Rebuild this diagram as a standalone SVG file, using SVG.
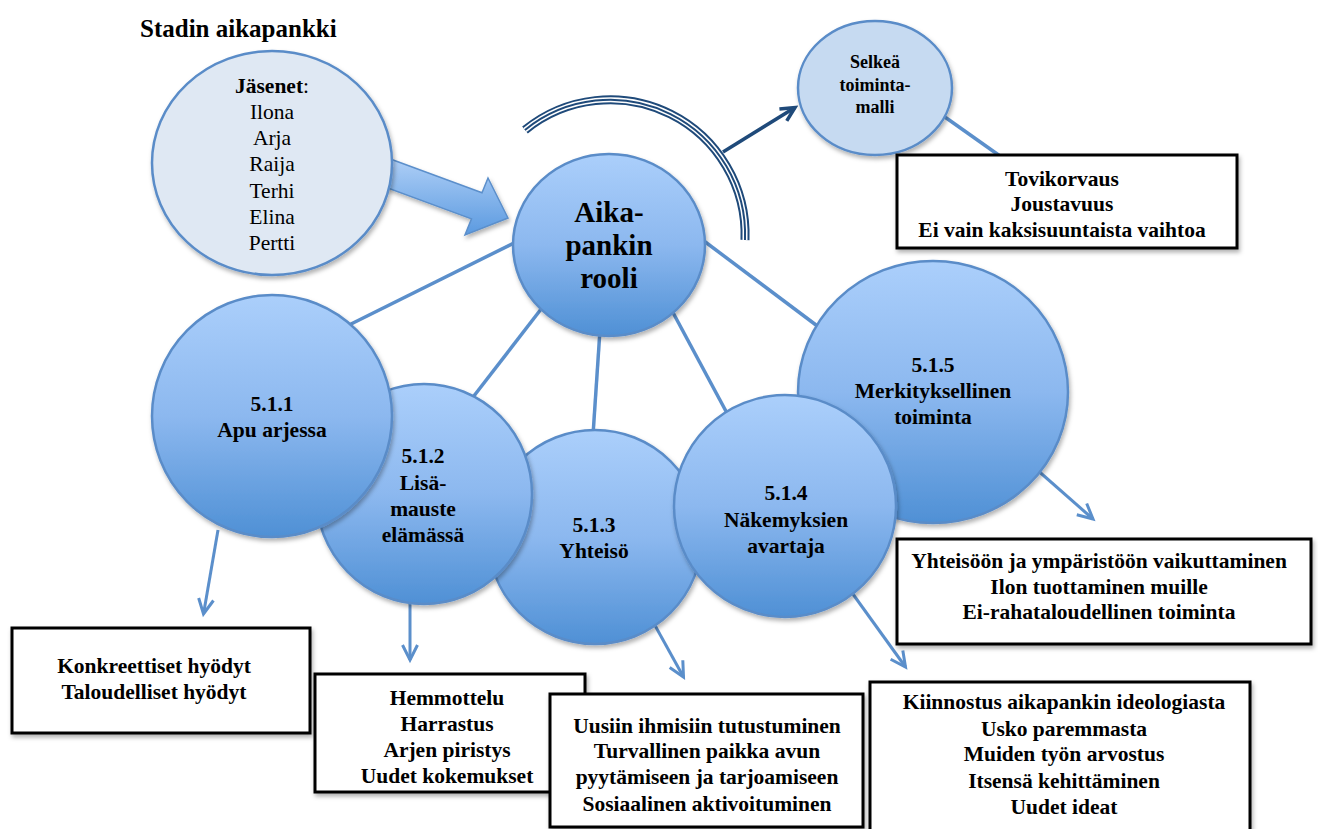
<svg xmlns="http://www.w3.org/2000/svg" width="1318" height="829" viewBox="0 0 1318 829">
<style>
.t{font-family:"Liberation Serif","Times New Roman",serif;fill:#000;text-anchor:middle}
.b{font-weight:bold}
.ball{fill:url(#gBall);stroke:#5a8cc8;stroke-width:2.5;filter:url(#sh)}
.box{fill:#fff;stroke:#000;stroke-width:3;filter:url(#sh)}
.conn{stroke:#5b8fcb;stroke-width:3.5;fill:none}
.arr{stroke:#5b8fcb;stroke-width:3;fill:none;marker-end:url(#mBlue)}
</style>
<defs>
<linearGradient id="gBall" x1="0" y1="0" x2="0" y2="1">
<stop offset="0" stop-color="#abcffb"/>
<stop offset="0.5" stop-color="#8cb8ef"/>
<stop offset="1" stop-color="#4f90d5"/>
</linearGradient>
<linearGradient id="gArrow" x1="0" y1="0" x2="0" y2="1">
<stop offset="0" stop-color="#b0d0f7"/>
<stop offset="1" stop-color="#5b9ae0"/>
</linearGradient>
<filter id="sh" x="-10%" y="-10%" width="130%" height="130%">
<feDropShadow dx="1.5" dy="3" stdDeviation="2" flood-color="#000" flood-opacity="0.3"/>
</filter>
<marker id="mBlue" markerUnits="userSpaceOnUse" viewBox="-18 -10 22 20" refX="0" refY="0" markerWidth="22" markerHeight="20" orient="auto">
<path d="M-15,-7.5 L0,0 L-15,7.5" fill="none" stroke="#5b8fcb" stroke-width="3"/>
</marker>
<marker id="mNavy" markerUnits="userSpaceOnUse" viewBox="-18 -10 22 20" refX="0" refY="0" markerWidth="22" markerHeight="20" orient="auto">
<path d="M-14,-7 L0,0 L-14,7" fill="none" stroke="#1f4a7a" stroke-width="3.5"/>
</marker>
</defs>
<rect width="1318" height="829" fill="#fff"/>

<g id="connectors">
<line class="conn" x1="345" y1="327" x2="520" y2="240"/>
<line class="conn" x1="470" y1="401" x2="545" y2="304"/>
<line class="conn" x1="593" y1="435" x2="600" y2="330"/>
<line class="conn" x1="670" y1="307" x2="728" y2="415"/>
<line class="conn" x1="700" y1="238" x2="820" y2="328"/>
<line class="conn" x1="935" y1="110" x2="1000" y2="156"/>
<line class="arr" x1="218" y1="530" x2="203.5" y2="614"/>
<line class="arr" x1="410" y1="598" x2="410" y2="660"/>
<line class="arr" x1="652" y1="620" x2="683.5" y2="677"/>
<line class="arr" x1="850" y1="590" x2="905.5" y2="667"/>
<line class="arr" x1="1035" y1="468" x2="1093" y2="519"/>
<line x1="723" y1="152" x2="795" y2="107.5" stroke="#1f4a7a" stroke-width="3.5" marker-end="url(#mNavy)"/>
</g>

<g id="cycle-arc">
<path d="M525,130 A135,135 0 0 1 745,240" fill="none" stroke="#1f4a7a" stroke-width="9"/>
<path d="M525,130 A135,135 0 0 1 745,240" fill="none" stroke="#fff" stroke-width="5"/>
<path d="M525,130 A135,135 0 0 1 745,240" fill="none" stroke="#1f4a7a" stroke-width="2"/>
</g>

<g id="big-arrow">
<polygon points="385,157 482,192.7 488,178 508,218 465,235 471.5,218.9 385,187" fill="url(#gArrow)" stroke="#5b8fcb" stroke-width="1.5" filter="url(#sh)"/>
</g>

<g id="members">
<ellipse cx="272" cy="163" rx="120" ry="112" fill="#dfe8f3" stroke="#5a8cc8" stroke-width="2.5" filter="url(#sh)"/>
<text class="t" font-size="21.5" x="272" y="93"><tspan font-weight="bold">Jäsenet</tspan>:</text>
<text class="t" font-size="21.5" x="272" y="119">Ilona</text>
<text class="t" font-size="21.5" x="272" y="145">Arja</text>
<text class="t" font-size="21.5" x="272" y="171">Raija</text>
<text class="t" font-size="21.5" x="272" y="198">Terhi</text>
<text class="t" font-size="21.5" x="272" y="224">Elina</text>
<text class="t" font-size="21.5" x="272" y="250">Pertti</text>
</g>

<g id="center">
<ellipse class="ball" cx="609" cy="245" rx="96" ry="91"/>
<text class="t b" font-size="29" x="609" y="222">Aika-</text>
<text class="t b" font-size="29" x="609" y="255">pankin</text>
<text class="t b" font-size="29" x="609" y="288">rooli</text>
</g>

<g id="selkea">
<ellipse cx="875" cy="88" rx="77" ry="67" fill="#c6daf1" stroke="#5a8cc8" stroke-width="2.5" filter="url(#sh)"/>
<text class="t b" font-size="18" x="875" y="68">Selkeä</text>
<text class="t b" font-size="18" x="875" y="91">toiminta-</text>
<text class="t b" font-size="18" x="875" y="113">malli</text>
</g>

<g id="c513">
<circle class="ball" cx="595" cy="537" r="107"/>
<text class="t b" font-size="21.5" x="594" y="532">5.1.3</text>
<text class="t b" font-size="21.5" x="594" y="558">Yhteisö</text>
</g>
<g id="c512">
<ellipse class="ball" cx="424" cy="494" rx="108" ry="110"/>
<text class="t b" font-size="21.5" x="423" y="463">5.1.2</text>
<text class="t b" font-size="21.5" x="423" y="490">Lisä-</text>
<text class="t b" font-size="21.5" x="423" y="516">mauste</text>
<text class="t b" font-size="21.5" x="423" y="542">elämässä</text>
</g>
<g id="c511">
<ellipse class="ball" cx="272" cy="416" rx="120" ry="121"/>
<text class="t b" font-size="21.5" x="272" y="411">5.1.1</text>
<text class="t b" font-size="21.5" x="272" y="437">Apu arjessa</text>
</g>
<g id="c515">
<ellipse class="ball" cx="933" cy="392" rx="135" ry="131"/>
<text class="t b" font-size="21.5" x="933" y="372">5.1.5</text>
<text class="t b" font-size="21.5" x="933" y="398">Merkityksellinen</text>
<text class="t b" font-size="21.5" x="933" y="424">toiminta</text>
</g>
<g id="c514">
<circle class="ball" cx="785" cy="506" r="111"/>
<text class="t b" font-size="21.5" x="786" y="500">5.1.4</text>
<text class="t b" font-size="21.5" x="786" y="527">Näkemyksien</text>
<text class="t b" font-size="21.5" x="786" y="553">avartaja</text>
</g>

<g id="box-tovi">
<rect class="box" x="897" y="155" width="340" height="93"/>
<text class="t b" font-size="21.5" x="1062" y="186">Tovikorvaus</text>
<text class="t b" font-size="21.5" x="1062" y="211">Joustavuus</text>
<text class="t b" font-size="21.5" x="1062" y="237">Ei vain kaksisuuntaista vaihtoa</text>
</g>
<g id="box-yhteisoon">
<rect class="box" x="897" y="539" width="414" height="105"/>
<text class="t b" font-size="21.5" x="1099" y="568">Yhteisöön ja ympäristöön vaikuttaminen</text>
<text class="t b" font-size="21.5" x="1099" y="594">Ilon tuottaminen muille</text>
<text class="t b" font-size="21.5" x="1099" y="619">Ei-rahataloudellinen toiminta</text>
</g>
<g id="box-konkreettiset">
<rect class="box" x="12" y="628" width="298" height="105"/>
<text class="t b" font-size="21.5" x="154" y="673">Konkreettiset hyödyt</text>
<text class="t b" font-size="21.5" x="154" y="699">Taloudelliset hyödyt</text>
</g>
<g id="box-hemmottelu">
<rect class="box" x="315" y="674" width="270" height="118"/>
<text class="t b" font-size="21.5" x="447" y="705">Hemmottelu</text>
<text class="t b" font-size="21.5" x="447" y="731">Harrastus</text>
<text class="t b" font-size="21.5" x="447" y="757">Arjen piristys</text>
<text class="t b" font-size="21.5" x="447" y="783">Uudet kokemukset</text>
</g>
<g id="box-uusiin">
<rect class="box" x="550" y="694" width="313" height="133"/>
<text class="t b" font-size="21.5" x="707" y="733">Uusiin ihmisiin tutustuminen</text>
<text class="t b" font-size="21.5" x="707" y="758">Turvallinen paikka avun</text>
<text class="t b" font-size="21.5" x="707" y="784">pyytämiseen ja tarjoamiseen</text>
<text class="t b" font-size="21.5" x="707" y="811">Sosiaalinen aktivoituminen</text>
</g>
<g id="box-kiinnostus">
<rect class="box" x="870" y="682" width="380" height="152"/>
<text class="t b" font-size="21.5" x="1064" y="709">Kiinnostus aikapankin ideologiasta</text>
<text class="t b" font-size="21.5" x="1064" y="736">Usko paremmasta</text>
<text class="t b" font-size="21.5" x="1064" y="761">Muiden työn arvostus</text>
<text class="t b" font-size="21.5" x="1064" y="788">Itsensä kehittäminen</text>
<text class="t b" font-size="21.5" x="1064" y="814">Uudet ideat</text>
</g>

<g id="title">
<text class="t b" font-size="25" x="140" y="37" style="text-anchor:start">Stadin aikapankki</text>
</g>
</svg>
